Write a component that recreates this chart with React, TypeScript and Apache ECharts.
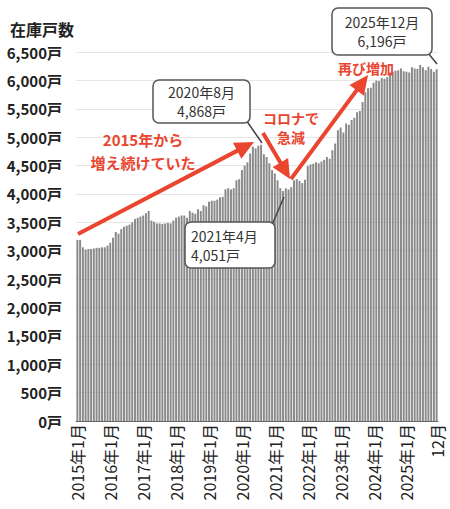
import React, { useEffect, useRef } from "react";
import * as echarts from "echarts";

const years = [2015, 2016, 2017, 2018, 2019, 2020, 2021, 2022, 2023, 2024, 2025];
const v2015 = [3190, 3190, 3060, 3020, 3030, 3030, 3040, 3050, 3050, 3060, 3060, 3090];
const v2016 = [3140, 3230, 3330, 3300, 3380, 3420, 3440, 3460, 3500, 3560, 3580, 3600];
const v2017 = [3620, 3660, 3700, 3530, 3510, 3480, 3480, 3470, 3480, 3490, 3480, 3530];
const v2018 = [3580, 3600, 3620, 3620, 3580, 3700, 3670, 3650, 3730, 3700, 3800, 3780];
const v2019 = [3860, 3880, 3880, 3900, 3940, 3950, 4080, 4100, 4080, 4100, 4240, 4260];
const v2020 = [4420, 4500, 4560, 4710, 4830, 4800, 4850, 4868, 4700, 4650, 4540, 4420];
const v2021 = [4360, 4240, 4100, 4051, 4100, 4080, 4120, 4240, 4260, 4230, 4190, 4250];
const v2022 = [4490, 4520, 4530, 4560, 4540, 4570, 4600, 4650, 4620, 4770, 4890, 5120];
const v2023 = [5170, 5080, 5240, 5220, 5300, 5340, 5440, 5460, 5620, 5790, 5860, 5870];
const v2024 = [5960, 6000, 5990, 6040, 6030, 6060, 6140, 6150, 6170, 6180, 6210, 6160];
const v2025 = [6150, 6140, 6230, 6210, 6200, 6270, 6230, 6180, 6240, 6200, 6150, 6196];

const values = [
  ...v2015, ...v2016, ...v2017, ...v2018, ...v2019, ...v2020,
  ...v2021, ...v2022, ...v2023, ...v2024, ...v2025,
];
const categories: string[] = [];
years.forEach((y) => {
  for (let m = 1; m <= 12; m++) categories.push(`${y}年${m}月`);
});

const FONT = "'Noto Sans CJK JP', 'Noto Sans', sans-serif";
const RED = "#e9452f";
const DARK = "#333";

function fmt(v: number) {
  return v.toString().replace(/\B(?=(\d{3})+(?!\d))/g, ",") + "戸";
}

function arrow(x1: number, y1: number, x2: number, y2: number) {
  const head = 19;
  const hw = 9;
  const dx = x2 - x1;
  const dy = y2 - y1;
  const len = Math.hypot(dx, dy);
  const ux = dx / len;
  const uy = dy / len;
  const bx = x2 - ux * head;
  const by = y2 - uy * head;
  const px = -uy;
  const py = ux;
  return [
    {
      type: "line",
      z: 100,
      shape: { x1, y1, x2: bx + ux * 2, y2: by + uy * 2 },
      style: { stroke: RED, lineWidth: 4 },
    },
    {
      type: "polygon",
      z: 100,
      shape: {
        points: [
          [x2, y2],
          [bx + px * hw, by + py * hw],
          [bx - px * hw, by - py * hw],
        ],
      },
      style: { fill: RED },
    },
  ];
}

function redText(text: string, x: number, y: number, size = 15) {
  return {
    type: "text",
    z: 100,
    x,
    y,
    style: {
      text,
      fill: RED,
      font: `bold ${size}px ${FONT}`,
      align: "center",
      verticalAlign: "middle",
    },
  };
}

function callout(
  x: number,
  y: number,
  w: number,
  h: number,
  lines: string[],
  align: "center" | "left",
  px1: number,
  py1: number,
  px2: number,
  py2: number
) {
  const tx = align === "center" ? x + w / 2 : x + 6;
  const mid = y + h / 2;
  return [
    {
      type: "line",
      z: 99,
      shape: { x1: px1, y1: py1, x2: px2, y2: py2 },
      style: { stroke: "#444", lineWidth: 1.5 },
    },
    {
      type: "rect",
      z: 100,
      shape: { x, y, width: w, height: h, r: 6 },
      style: { fill: "#fff", stroke: "#555", lineWidth: 1.5 },
    },
    {
      type: "text",
      z: 101,
      x: tx,
      y: mid - 9.5,
      style: {
        text: lines[0],
        fill: DARK,
        font: `14px ${FONT}`,
        align,
        verticalAlign: "middle",
      },
    },
    {
      type: "text",
      z: 101,
      x: tx,
      y: mid + 9.5,
      style: {
        text: lines[1],
        fill: DARK,
        font: `14px ${FONT}`,
        align,
        verticalAlign: "middle",
      },
    },
  ];
}

export default function App() {
  const ref = useRef<HTMLDivElement>(null);
  useEffect(() => {
    document.body.style.margin = "0";
    const chart = echarts.init(ref.current!, undefined, { renderer: "svg" });
    const last = categories.length - 1;
    chart.setOption({
      animation: false,
      backgroundColor: "#fff",
      textStyle: { fontFamily: FONT },
      grid: { left: 76, right: 12, top: 52, bottom: 88, containLabel: false },
      xAxis: {
        type: "category",
        data: categories,
        axisTick: { show: false },
        axisLine: { lineStyle: { color: "#666", width: 1 } },
        axisLabel: {
          interval: (idx: number) => idx % 12 === 0 || idx === last,
          rotate: 90,
          margin: 3,
          fontSize: 16,
          color: "#222",
          fontFamily: FONT,
          formatter: (v: string, idx: number) => (idx === last ? "12月" : v),
        },
      },
      yAxis: {
        type: "value",
        min: 0,
        max: 6500,
        interval: 500,
        axisLine: { show: false },
        axisTick: { show: false },
        splitLine: { lineStyle: { color: "#e6e6e6" } },
        axisLabel: {
          margin: 14,
          fontSize: 15,
          fontWeight: "bold",
          color: "#222",
          fontFamily: FONT,
          formatter: (v: number) => fmt(v),
        },
      },
      series: [
        {
          type: "bar",
          data: values,
          barCategoryGap: "28%",
          itemStyle: { color: "#8a8a8a" },
        },
      ],
      graphic: [
        {
          type: "text",
          x: 10,
          y: 29,
          z: 100,
          style: {
            text: "在庫戸数",
            fill: "#222",
            font: `bold 16px ${FONT}`,
            verticalAlign: "middle",
          },
        },
        ...arrow(78, 234, 254, 142),
        ...arrow(263, 133, 290, 179),
        ...arrow(291, 179, 368, 75),
        redText("2015年から", 143, 139),
        redText("増え続けていた", 143, 162),
        redText("コロナで", 291, 118, 14),
        redText("急減", 291, 137, 14),
        redText("再び増加", 366, 68, 14),
        ...callout(153, 80, 97, 43, ["2020年8月", "4,868戸"], "center", 246, 120, 262, 143),
        ...callout(185, 222, 90, 46, ["2021年4月", "4,051戸"], "left", 272, 225, 284, 197),
        ...callout(332, 8, 100, 47, ["2025年12月", "6,196戸"], "center", 428, 53, 437, 64),
      ],
    });
    return () => chart.dispose();
  }, []);
  return <div ref={ref} style={{ width: 450, height: 509 }} />;
}
